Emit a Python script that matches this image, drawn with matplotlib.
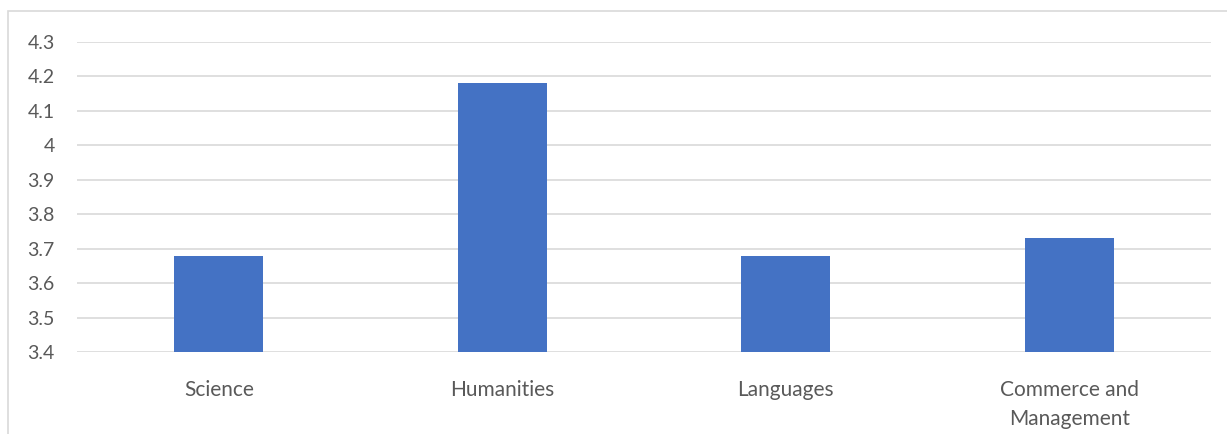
import matplotlib.pyplot as plt
from matplotlib.patches import Rectangle

# данные
categories = ['Science', 'Humanities', 'Languages', 'Commerce and\nManagement']
values = [3.68, 4.18, 3.68, 3.73]
yticks = [3.4, 3.5, 3.6, 3.7, 3.8, 3.9, 4.0, 4.1, 4.2, 4.3]
ytick_labels = ['3.4', '3.5', '3.6', '3.7', '3.8', '3.9', '4', '4.1', '4.2', '4.3']

plt.rcParams['font.family'] = ['Lato', 'DejaVu Sans']

fig = plt.figure(figsize=(12.27, 4.34), dpi=100)
ax = fig.add_axes([77 / 1227, 1 - 352 / 434, (1211 - 77) / 1227, (352 - 42) / 434])

x = range(len(categories))
ax.bar(x, values, width=0.314, color='#4472C4', zorder=3)

ax.set_xlim(-0.5, len(categories) - 0.5)
ax.set_ylim(3.4, 4.3)
ax.set_yticks(yticks)
ax.set_yticklabels(ytick_labels)
ax.set_xticks(list(x))
ax.set_xticklabels(categories, linespacing=1.6)

ax.grid(axis='y', color='#D9D9D9', linewidth=1.2, zorder=0)
for s in ax.spines.values():
    s.set_visible(False)
ax.tick_params(axis='y', length=0, labelsize=14, colors='#595959', pad=16)
ax.tick_params(axis='x', length=0, labelsize=15, colors='#595959', pad=20)

# рамка диаграммы
fig.patches.append(Rectangle((8 / 1227, -0.1), 1.2, 1 - 11 / 434 + 0.1,
                             transform=fig.transFigure, fill=False,
                             edgecolor='#D9D9D9', linewidth=1.2))

fig.savefig('out.png', dpi=100)
